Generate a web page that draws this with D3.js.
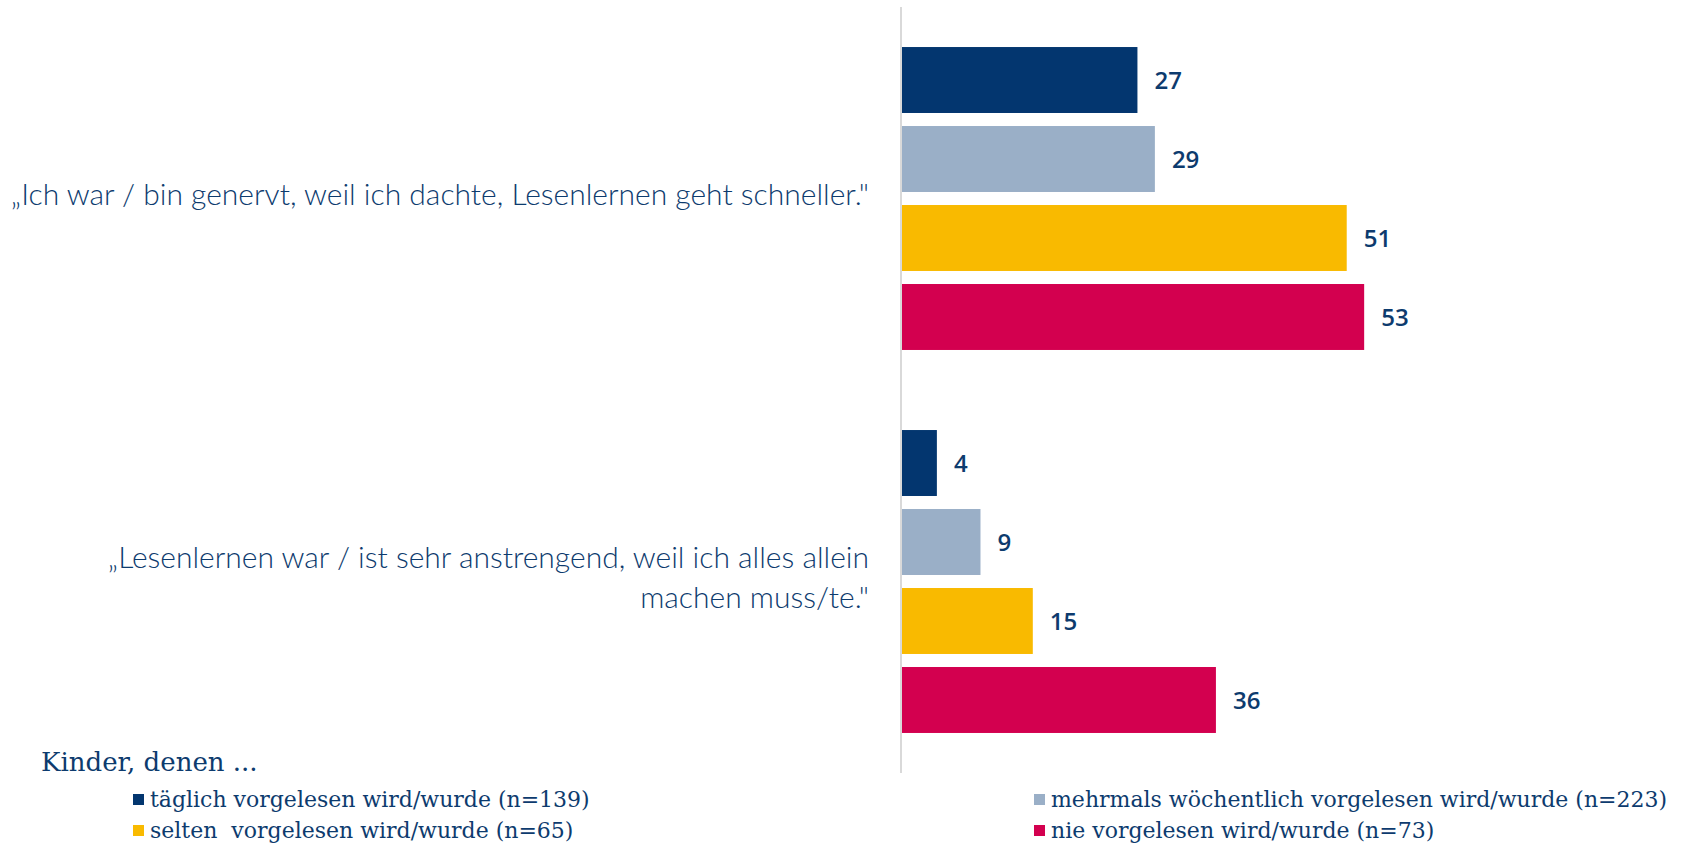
<!DOCTYPE html>
<html>
<head>
<meta charset="utf-8">
<script src="https://cdn.jsdelivr.net/npm/d3@7"></script>
<style>
  html, body { margin: 0; padding: 0; background: #fff; }
  .label { font-family: Lato, "Open Sans", sans-serif; font-weight: 300; fill: #0d3b6e; }
  .value { font-family: "Open Sans", Lato, sans-serif; font-weight: 600; fill: #0d3b6e; }
  .legend { font-family: "DejaVu Serif", "Liberation Serif", serif; fill: #0d3b6e; white-space: pre; }
</style>
</head>
<body>
<div id="chart"></div>
<script>
var CATEGORIES = [
    ['„Ich war / bin genervt, weil ich dachte, Lesenlernen geht schneller."'],
    ['„Lesenlernen war / ist sehr anstrengend, weil ich alles allein', 'machen muss/te."']
];

var SERIES = [
    'täglich vorgelesen wird/wurde (n=139)',
    'mehrmals wöchentlich vorgelesen wird/wurde (n=223)',
    'selten  vorgelesen wird/wurde (n=65)',
    'nie vorgelesen wird/wurde (n=73)'
];

var COLORS = ['#03366f', '#9aafc7', '#f9ba00', '#d3004f'];

// one array per category, in series order
var VALUES = [
    [27, 29, 51, 53],
    [4, 9, 15, 36]
];

var LEGEND_TITLE = 'Kinder, denen ...';

var w = 1690,
    h = 843,
    axisX = 902;

var svg = d3.select('#chart')
    .append('svg')
    .attr('width', w)
    .attr('height', h);

var x = d3.scaleLinear()
    .domain([0, 60])
    .range([axisX, axisX + 60 * 8.72]);

var y0 = d3.scaleBand()
    .domain(d3.range(CATEGORIES.length))
    .range([7, 773])
    .paddingInner(0.175)
    .paddingOuter(0.0875);

var y1 = d3.scaleBand()
    .domain(d3.range(SERIES.length))
    .range([0, y0.bandwidth()])
    .paddingInner(0.165)
    .paddingOuter(0.0825);

var groups = svg.selectAll('g.group')
    .data(VALUES)
    .enter()
    .append('g')
    .attr('class', 'group')
    .attr('transform', function(d, i) { return 'translate(0,' + y0(i) + ')'; });

groups.selectAll('rect')
    .data(function(d) { return d; })
    .enter()
    .append('rect')
    .attr('x', x(0))
    .attr('y', function(d, i) { return y1(i); })
    .attr('width', function(d) { return x(d) - x(0); })
    .attr('height', y1.bandwidth())
    .attr('fill', function(d, i) { return COLORS[i]; });

groups.selectAll('text.value')
    .data(function(d) { return d; })
    .enter()
    .append('text')
    .attr('class', 'value')
    .attr('x', function(d) { return x(d) + 17; })
    .attr('y', function(d, i) { return y1(i) + y1.bandwidth() / 2; })
    .attr('dy', '0.36em')
    .style('font-size', '24px')
    .text(function(d) { return d; });

// category labels
var labels = svg.selectAll('text.label')
    .data(CATEGORIES)
    .enter()
    .append('text')
    .attr('class', 'label')
    .attr('text-anchor', 'end')
    .style('font-size', '30px')
    .attr('transform', function(d, i) {
        return 'translate(869,' + (y0(i) + y0.bandwidth() / 2) + ')';
    });

labels.selectAll('tspan')
    .data(function(d) { return d; })
    .enter()
    .append('tspan')
    .attr('x', 0)
    .attr('y', function(d, i, nodes) { return (i - (nodes.length - 1) / 2) * 40 + 6; })
    .text(function(d) { return d; });

// vertical axis line
svg.append('line')
    .attr('x1', axisX - 1)
    .attr('x2', axisX - 1)
    .attr('y1', y0.range()[0])
    .attr('y2', y0.range()[1])
    .attr('stroke', '#d9d9d9')
    .attr('stroke-width', 2);

// legend
svg.append('text')
    .attr('class', 'legend')
    .attr('x', 41)
    .attr('y', 771)
    .style('font-size', '26px')
    .text(LEGEND_TITLE);

var legendPos = [[133, 807], [1034, 807], [133, 838], [1034, 838]];

var items = svg.selectAll('g.legend-item')
    .data(SERIES)
    .enter()
    .append('g')
    .attr('class', 'legend-item')
    .attr('transform', function(d, i) { return 'translate(' + legendPos[i][0] + ',' + legendPos[i][1] + ')'; });

items.append('rect')
    .attr('x', 0)
    .attr('y', -13)
    .attr('width', 11)
    .attr('height', 11)
    .attr('fill', function(d, i) { return COLORS[i]; });

items.append('text')
    .attr('class', 'legend')
    .attr('x', 17)
    .attr('y', 0)
    .style('font-size', '22px')
    .text(function(d) { return d; });
</script>
</body>
</html>
